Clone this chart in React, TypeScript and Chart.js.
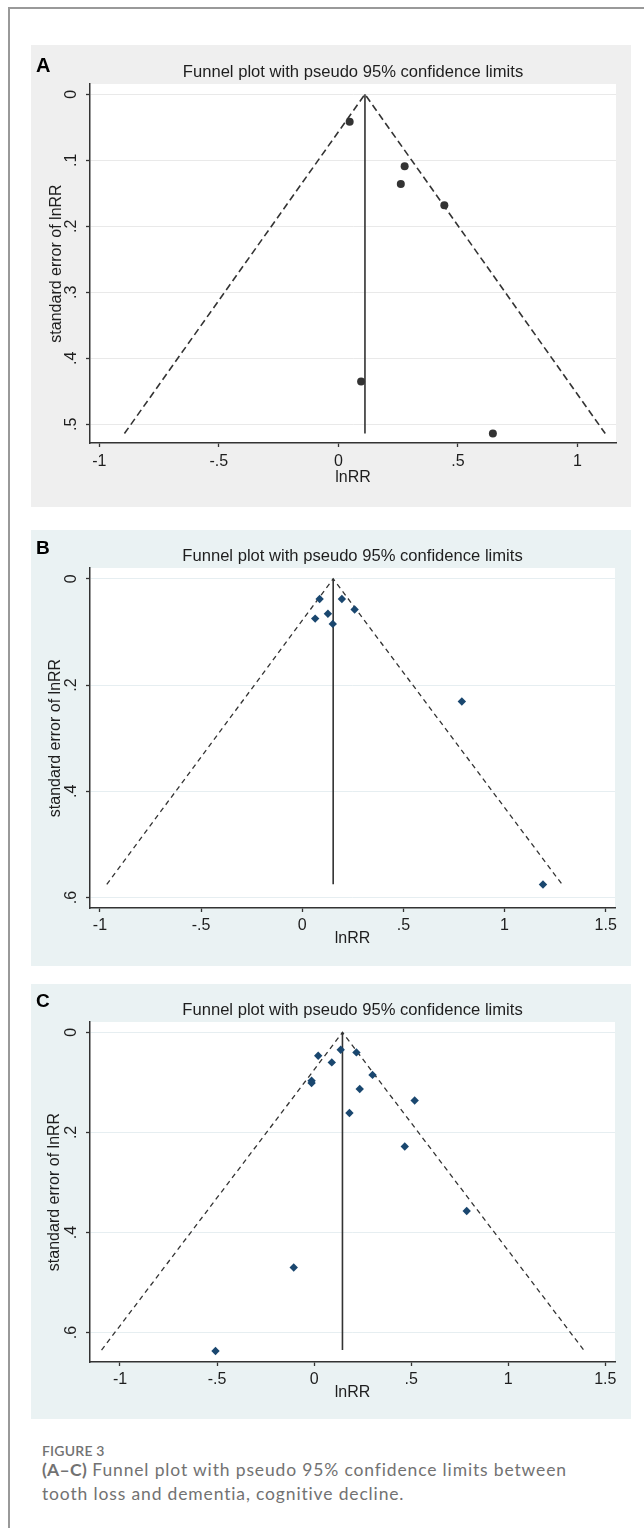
import React, { useEffect, useRef } from 'react';
import { Chart, registerables } from 'chart.js';

Chart.register(...registerables);

// ---------- Data ----------
const TITLE = 'Funnel plot with pseudo 95% confidence limits';
const X_TITLE = 'lnRR';
const Y_TITLE = 'standard error of lnRR';

// Panel A
const lnrrA = [0.047, 0.277, 0.261, 0.443, 0.095, 0.646];
const seA = [0.0415, 0.109, 0.136, 0.168, 0.435, 0.514];
const pooledA = 0.111;
const seMaxA = 0.514;
const lowerEndA = -0.895;
const upperEndA = 1.116;
const xTicksA = [-1, -0.5, 0, 0.5, 1];
const yTicksA = [0, 0.1, 0.2, 0.3, 0.4, 0.5];

// Panel B
const lnrrB = [0.086, 0.064, 0.127, 0.151, 0.196, 0.259, 0.789, 1.19];
const seB = [0.038, 0.075, 0.066, 0.085, 0.038, 0.058, 0.231, 0.5755];
const pooledB = 0.153;
const seMaxB = 0.575;
const lowerEndB = -0.966;
const upperEndB = 1.284;
const xTicksB = [-1, -0.5, 0, 0.5, 1, 1.5];
const yTicksB = [0, 0.2, 0.4, 0.6];

// Panel C
const lnrrC = [0.021, 0.091, -0.013, -0.013, -0.105, -0.508, 0.137, 0.218, 0.301, 0.235, 0.182, 0.518, 0.467, 0.786];
const seC = [0.0467, 0.06, 0.0967, 0.101, 0.47, 0.637, 0.0347, 0.04, 0.085, 0.113, 0.161, 0.136, 0.228, 0.357];
const pooledC = 0.146;
const seMaxC = 0.635;
const lowerEndC = -1.095;
const upperEndC = 1.389;
const xTicksC = [-1, -0.5, 0, 0.5, 1, 1.5];
const yTicksC = [0, 0.2, 0.4, 0.6];

const FONT = '"Liberation Sans", Arial, Helvetica, sans-serif';
const fmt = (v: number) => (v === 0 ? '0' : String(v).replace('0.', '.'));

type Panel = {
  letter: string;
  top: number;
  height: number;
  bg: string;
  grid: string;
  xs: number[];
  ys: number[];
  pooled: number;
  seMax: number;
  lower: number;
  upper: number;
  xTicks: number[];
  yTicks: number[];
  xMin: number;
  xMax: number;
  yMin: number;
  yMax: number;
  area: { left: number; right: number; top: number; bottom: number };
  titleCenter: number;
  xTitleCenter: number;
  yTitleX: number;
  xTickPad: number;
  pointStyle: string;
  pointColor: string;
  pointRadius: number;
  dash: number[];
  dashWidth: number;
  letterTop: number;
  letterSize: number;
};

const panels: Panel[] = [
  {
    letter: 'A', top: 45, height: 462, bg: '#efefef', grid: '#e9e9e9',
    xs: lnrrA, ys: seA, pooled: pooledA, seMax: seMaxA, lower: lowerEndA, upper: upperEndA,
    xTicks: xTicksA, yTicks: yTicksA, xMin: -1.039, xMax: 1.161, yMin: -0.0156, yMax: 0.5283,
    area: { left: 59, right: 585, top: 39, bottom: 398 },
    titleCenter: 27, xTitleCenter: 432.5, yTitleX: 25.7, xTickPad: 5,
    pointStyle: 'circle', pointColor: '#333333', pointRadius: 4, dash: [7, 4], dashWidth: 1.6,
    letterTop: 54.7, letterSize: 20,
  },
  {
    letter: 'B', top: 530, height: 436, bg: '#eaf2f3', grid: '#e6eef1',
    xs: lnrrB, ys: seB, pooled: pooledB, seMax: seMaxB, lower: lowerEndB, upper: upperEndB,
    xTicks: xTicksB, yTicks: yTicksB, xMin: -1.049, xMax: 1.546, yMin: -0.0202, yMax: 0.6196,
    area: { left: 59, right: 584, top: 38, bottom: 378 },
    titleCenter: 26, xTitleCenter: 409, yTitleX: 24.5, xTickPad: 4.2,
    pointStyle: 'rectRot', pointColor: '#1a476f', pointRadius: 4.2, dash: [5, 4], dashWidth: 1.3,
    letterTop: 537.5, letterSize: 19,
  },
  {
    letter: 'C', top: 984, height: 435, bg: '#eaf2f3', grid: '#e6eef1',
    xs: lnrrC, ys: seC, pooled: pooledC, seMax: seMaxC, lower: lowerEndC, upper: upperEndC,
    xTicks: xTicksC, yTicks: yTicksC, xMin: -1.1545, xMax: 1.55, yMin: -0.0208, yMax: 0.6589,
    area: { left: 59, right: 584, top: 38, bottom: 378 },
    titleCenter: 26, xTitleCenter: 408.5, yTitleX: 23.7, xTickPad: 3.6,
    pointStyle: 'rectRot', pointColor: '#1a476f', pointRadius: 4.2, dash: [5, 4], dashWidth: 1.3,
    letterTop: 990.8, letterSize: 19,
  },
];

const PANEL_LEFT = 31;
const PANEL_W = 600;

function FunnelChart({ p }: { p: Panel }) {
  const ref = useRef<HTMLCanvasElement | null>(null);
  useEffect(() => {
    if (!ref.current) return;
    const W = PANEL_W;
    const H = p.height;
    const lh = 16 * 1.2;
    const tlh = 16.6 * 1.2;
    const titlePadTop = p.titleCenter - tlh / 2;
    const titlePadBottom = p.area.top - titlePadTop - tlh;
    const chart = new Chart(ref.current, {
      type: 'scatter',
      data: {
        datasets: [
          {
            data: p.xs.map((x, i) => ({ x, y: p.ys[i] })),
            pointStyle: p.pointStyle as any,
            pointRadius: p.pointRadius,
            pointBackgroundColor: p.pointColor,
            pointBorderColor: p.pointColor,
            pointBorderWidth: 0,
            showLine: false,
          },
          {
            data: [{ x: p.pooled, y: 0 }, { x: p.pooled, y: p.seMax }],
            showLine: true,
            pointRadius: 0,
            borderColor: '#333333',
            borderWidth: 1.6,
          },
          {
            data: [{ x: p.lower, y: p.seMax }, { x: p.pooled, y: 0 }, { x: p.upper, y: p.seMax }],
            showLine: true,
            pointRadius: 0,
            borderColor: '#333333',
            borderWidth: p.dashWidth,
            borderDash: p.dash,
          },
        ],
      },
      options: {
        responsive: false,
        animation: false,
        devicePixelRatio: 1,
        events: [],
        layout: { padding: { left: 0, right: W - p.area.right, top: 0, bottom: 0 } },
        plugins: {
          legend: { display: false },
          tooltip: { enabled: false },
          title: {
            display: true,
            text: TITLE,
            fullSize: false,
            color: '#1e1e1e',
            font: { family: FONT, size: 16.6, weight: 'normal' as any, lineHeight: 1.2 },
            padding: { top: titlePadTop, bottom: titlePadBottom },
          },
        },
        scales: {
          x: {
            type: 'linear',
            position: 'bottom',
            min: p.xMin,
            max: p.xMax,
            afterBuildTicks: (s: any) => {
              s.ticks = p.xTicks.map((v) => ({ value: v }));
            },
            afterFit: (s: any) => {
              s.height = H - p.area.bottom;
            },
            ticks: {
              callback: (v: any) => fmt(Number(v)),
              padding: p.xTickPad,
              color: '#1e1e1e',
              font: { family: FONT, size: 16 },
              autoSkip: false,
              minRotation: 0,
              maxRotation: 0,
            },
            grid: { drawOnChartArea: false, drawTicks: true, tickLength: 4, tickColor: '#333333', tickWidth: 1.3 },
            border: { display: true, color: '#333333', width: 1.5 },
            title: {
              display: true,
              text: X_TITLE,
              color: '#1e1e1e',
              font: { family: FONT, size: 16, lineHeight: 1.2 },
              padding: { top: 0, bottom: H - p.xTitleCenter - lh / 2 },
            },
          },
          y: {
            type: 'linear',
            position: 'left',
            reverse: true,
            min: p.yMin,
            max: p.yMax,
            afterBuildTicks: (s: any) => {
              s.ticks = p.yTicks.map((v) => ({ value: v }));
            },
            afterFit: (s: any) => {
              s.width = p.area.left;
            },
            ticks: {
              callback: (v: any) => fmt(Number(v)),
              padding: 7.6,
              crossAlign: 'center',
              color: '#1e1e1e',
              font: { family: FONT, size: 16 },
              autoSkip: false,
              minRotation: 90,
              maxRotation: 90,
            },
            grid: { drawOnChartArea: true, color: p.grid, lineWidth: 1, drawTicks: true, tickLength: 4, tickColor: '#333333', tickWidth: 1.3 },
            border: { display: true, color: '#333333', width: 1.5 },
            title: {
              display: true,
              text: Y_TITLE,
              color: '#1e1e1e',
              font: { family: FONT, size: 16, lineHeight: 1.2 },
              padding: { top: p.yTitleX - lh / 2, bottom: 0 },
            },
          },
        },
      } as any,
      plugins: [
        {
          id: 'plotBg',
          beforeDraw(c: any) {
            const { ctx, chartArea: a } = c;
            ctx.save();
            ctx.fillStyle = p.bg;
            ctx.fillRect(0, 0, c.width, c.height);
            ctx.fillStyle = '#ffffff';
            ctx.fillRect(a.left, a.top, a.right - a.left, a.bottom - a.top);
            ctx.restore();
          },
        },
      ],
    });
    return () => chart.destroy();
  }, [p]);

  return (
    <canvas
      ref={ref}
      width={PANEL_W}
      height={p.height}
      style={{ position: 'absolute', left: PANEL_LEFT, top: p.top, width: PANEL_W, height: p.height, background: p.bg }}
    />
  );
}

export default function App() {
  return (
    <div style={{ position: 'absolute', left: 0, top: 0, width: 644, height: 1528, background: '#ffffff', overflow: 'hidden' }}>
      <div
        style={{
          position: 'absolute', left: 8, top: 7, width: 720, height: 1600,
          borderLeft: '2px solid #999999', borderTop: '2px solid #999999', boxSizing: 'border-box',
        }}
      />
      {panels.map((p) => (
        <FunnelChart key={p.letter} p={p} />
      ))}
      {panels.map((p) => (
        <div
          key={'L' + p.letter}
          style={{
            position: 'absolute', left: 36, top: p.letterTop, fontFamily: FONT, fontWeight: 'bold',
            fontSize: p.letterSize, lineHeight: `${p.letterSize}px`, color: '#000',
          }}
        >
          {p.letter}
        </div>
      ))}
      <div
        style={{
          position: 'absolute', left: 42, top: 1443, fontFamily: 'Lato, "Open Sans", sans-serif', color: '#727272',
        }}
      >
        <div style={{ fontSize: 14, fontWeight: 600, lineHeight: '16px', letterSpacing: 0.2 }}>FIGURE 3</div>
        <div style={{ fontSize: 17.5, lineHeight: '24px', marginTop: -1, whiteSpace: 'nowrap', letterSpacing: 0.85 }}>
          <span style={{ fontWeight: 700, letterSpacing: 0.3 }}>(A–C)</span> Funnel plot with pseudo 95% confidence limits between
          <br />
          tooth loss and dementia, cognitive decline.
        </div>
      </div>
    </div>
  );
}
